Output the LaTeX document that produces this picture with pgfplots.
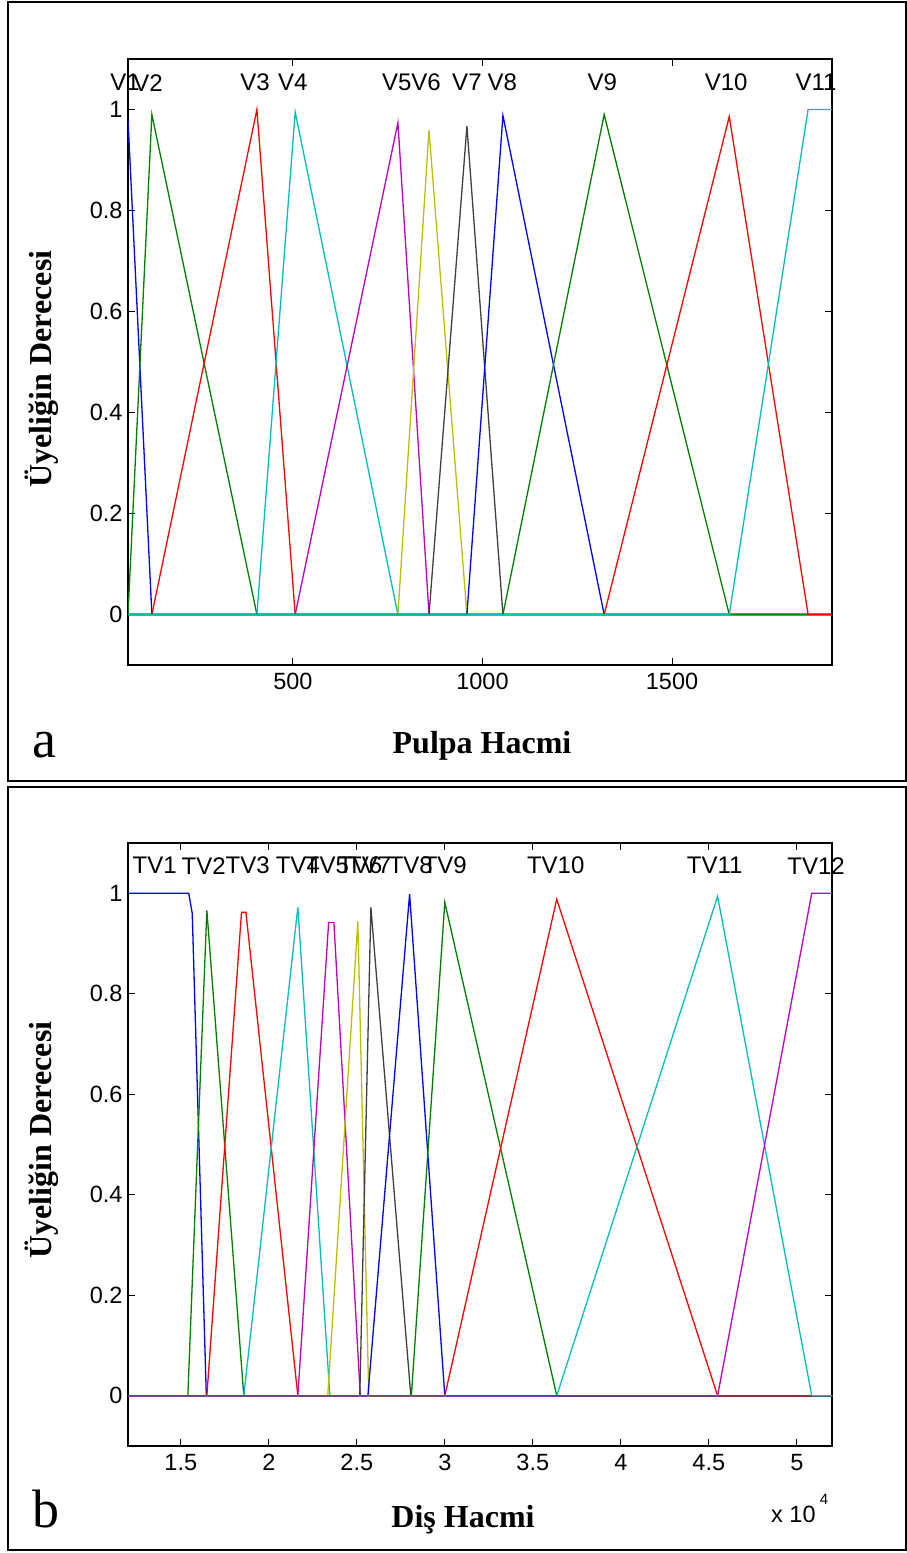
\documentclass[border=0pt]{standalone}
\usepackage{fontspec}
\setmainfont{Liberation Sans}
\newfontfamily\timesfont{Liberation Serif}
\usepackage{pgfplots}
\pgfplotsset{compat=1.18}
\definecolor{mblue}{RGB}{0,0,255}
\definecolor{mgreen}{RGB}{0,128,0}
\definecolor{mred}{RGB}{255,0,0}
\definecolor{mcyan}{RGB}{0,191,191}
\definecolor{mmag}{RGB}{191,0,191}
\definecolor{myel}{RGB}{191,191,0}
\definecolor{mgray}{RGB}{64,64,64}
\tikzset{mflab/.style={font=\fontsize{24bp}{28bp}\selectfont, anchor=center, inner sep=0pt}}
\pgfplotsset{mfaxis/.style={
  scale only axis, width=704bp,
  axis line style={line width=1.6bp},
  tick align=inside, major tick length=7bp,
  tick style={black, line width=1bp},
  ymin=-0.1, ymax=1.1,
  ytick={0,0.2,0.4,0.6,0.8,1},
  yticklabels={0,0.2,0.4,0.6,0.8,1},
  ticklabel style={font=\fontsize{23.5bp}{28bp}\selectfont},
  xticklabel style={yshift=-5bp},
  yticklabel style={xshift=-2bp},
  every axis plot/.append style={line width=1.3bp},
  clip mode=individual
}}
\begin{document}
\begin{tikzpicture}
\path (0,0) rectangle (907bp,-1553bp);
\draw[line width=2bp] (8bp,-2bp) rectangle (906bp,-781bp);
\draw[line width=2bp] (8bp,-787bp) rectangle (906bp,-1550bp);
% ---------- panel a ----------
\begin{axis}[mfaxis, at={(128bp,-665bp)}, anchor=south west, height=606bp,
  xmin=65, xmax=1922, xtick={500,1000,1500}, xticklabels={500,1000,1500}]
\addplot[mblue] coordinates {(65,0.98) (128,0) (1922,0)};
\addplot[mgreen] coordinates {(65,0) (128,0.99) (405,0) (1922,0)};
\addplot[mred] coordinates {(65,0) (128,0) (405,1) (506,0) (1922,0)};
\addplot[mcyan] coordinates {(65,0) (405,0) (506,0.995) (777,0) (1922,0)};
\addplot[mmag] coordinates {(65,0) (506,0) (777,0.974) (859,0) (1922,0)};
\addplot[myel] coordinates {(65,0) (777,0) (859,0.959) (959,0) (1922,0)};
\addplot[mgray] coordinates {(65,0) (859,0) (959,0.967) (1054,0) (1922,0)};
\addplot[mblue] coordinates {(65,0) (959,0) (1054,0.988) (1321,0) (1922,0)};
\addplot[mgreen] coordinates {(65,0) (1054,0) (1321,0.99) (1651,0) (1922,0)};
\addplot[mred] coordinates {(65,0) (1321,0) (1651,0.986) (1859,0) (1922,0)};
\addplot[mcyan] coordinates {(65,0) (1651,0) (1859,1) (1922,1)};
\node[mflab] at (axis cs:57,1.053) {V1};
\node[mflab] at (axis cs:118,1.053) {V2};
\node[mflab] at (axis cs:400,1.053) {V3};
\node[mflab] at (axis cs:500,1.053) {V4};
\node[mflab] at (axis cs:774,1.053) {V5};
\node[mflab] at (axis cs:851,1.053) {V6};
\node[mflab] at (axis cs:959,1.053) {V7};
\node[mflab] at (axis cs:1052,1.053) {V8};
\node[mflab] at (axis cs:1316,1.053) {V9};
\node[mflab] at (axis cs:1643,1.053) {V10};
\node[mflab] at (axis cs:1880,1.053) {V11};
\end{axis}
% ---------- panel b ----------
\begin{axis}[mfaxis, at={(128bp,-1446bp)}, anchor=south west, height=603bp,
  xmin=1.2, xmax=5.2, xtick={1.5,2,2.5,3,3.5,4,4.5,5},
  xticklabels={1.5,2,2.5,3,3.5,4,4.5,5}]
\addplot[mblue] coordinates {(1.2,1) (1.545,1) (1.565,0.96) (1.645,0) (5.2,0)};
\addplot[mgreen] coordinates {(1.2,0) (1.54,0) (1.648,0.966) (1.858,0) (5.2,0)};
\addplot[mred] coordinates {(1.2,0) (1.648,0) (1.845,0.962) (1.87,0.962) (2.165,0) (5.2,0)};
\addplot[mcyan] coordinates {(1.2,0) (1.858,0) (2.165,0.972) (2.347,0) (5.2,0)};
\addplot[mmag] coordinates {(1.2,0) (2.165,0) (2.34,0.942) (2.37,0.942) (2.52,0) (5.2,0)};
\addplot[myel] coordinates {(1.2,0) (2.335,0) (2.506,0.944) (2.568,0) (5.2,0)};
\addplot[mgray] coordinates {(1.2,0) (2.517,0) (2.58,0.972) (2.807,0) (5.2,0)};
\addplot[mblue] coordinates {(1.2,0) (2.563,0) (2.80,0.998) (3.0,0) (5.2,0)};
\addplot[mgreen] coordinates {(1.2,0) (2.81,0) (3.0,0.982) (3.636,0) (5.2,0)};
\addplot[mred] coordinates {(1.2,0) (3.0,0) (3.636,0.988) (4.55,0) (5.2,0)};
\addplot[mcyan] coordinates {(1.2,0) (3.636,0) (4.55,0.994) (5.085,0) (5.2,0)};
\addplot[mmag] coordinates {(1.2,0) (4.55,0) (5.085,1) (5.2,1)};
\node[mflab] at (axis cs:1.352,1.055) {TV1};
\node[mflab] at (axis cs:1.63,1.055) {TV2};
\node[mflab] at (axis cs:1.88,1.055) {TV3};
\node[mflab] at (axis cs:2.165,1.055) {TV4};
\node[mflab] at (axis cs:2.33,1.055) {TV5};
\node[mflab] at (axis cs:2.52,1.055) {TV6};
\node[mflab] at (axis cs:2.57,1.055) {TV7};
\node[mflab] at (axis cs:2.807,1.055) {TV8};
\node[mflab] at (axis cs:3.0,1.055) {TV9};
\node[mflab] at (axis cs:3.63,1.055) {TV10};
\node[mflab] at (axis cs:4.534,1.055) {TV11};
\node[mflab] at (axis cs:5.11,1.055) {TV12};
\end{axis}
% ---------- texts ----------
\node[anchor=base, font=\timesfont\bfseries\fontsize{32bp}{36bp}\selectfont] at (482bp,-753bp) {Pulpa Hacmi};
\node[anchor=base, font=\timesfont\bfseries\fontsize{32bp}{36bp}\selectfont] at (463bp,-1527bp) {Diş Hacmi};
\node[anchor=base, rotate=90, font=\timesfont\bfseries\fontsize{32bp}{36bp}\selectfont] at (51bp,-369bp) {Üyeliğin Derecesi};
\node[anchor=base, rotate=90, font=\timesfont\bfseries\fontsize{32bp}{36bp}\selectfont] at (51bp,-1140bp) {Üyeliğin Derecesi};
\node[anchor=base, font=\timesfont\fontsize{54bp}{60bp}\selectfont] at (44bp,-757bp) {a};
\node[anchor=base, font=\timesfont\fontsize{54bp}{60bp}\selectfont] at (46bp,-1527bp) {b};
\node[anchor=base west, inner sep=0pt, font=\fontsize{23.5bp}{28bp}\selectfont] at (771bp,-1522bp) {x 10\raisebox{18bp}{\fontsize{15bp}{18bp}\selectfont\ 4}};
\end{tikzpicture}
\end{document}
